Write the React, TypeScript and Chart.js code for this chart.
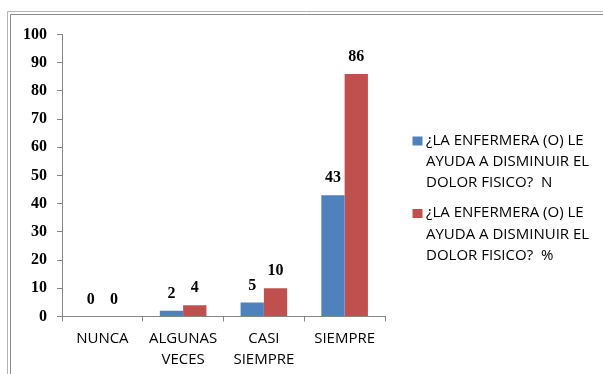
import { useEffect, useRef } from "react";
import { Chart, registerables } from "chart.js";

Chart.register(...registerables);

// Response categories on the x axis (multi-line where the label wraps)
const categories: (string | string[])[] = ["NUNCA", ["ALGUNAS", "VECES"], ["CASI", "SIEMPRE"], "SIEMPRE"];
// Counts (N) and percentages (%) per response
const valuesN = [0, 2, 5, 43];
const valuesPct = [0, 4, 10, 86];
// Legend text, wrapped as shown beside the plot
const legendLinesN = ["¿LA ENFERMERA (O) LE", "AYUDA A DISMINUIR EL", "DOLOR FISICO?  N"];
const legendLinesPct = ["¿LA ENFERMERA (O) LE", "AYUDA A DISMINUIR EL", "DOLOR FISICO?  %"];
// Value axis range
const yMin = 0;
const yMax = 100;
const yStep = 10;

const BLUE = "#4F81BD";
const RED = "#C0504D";
const AXIS = "#868686";
const SERIF_BOLD = 'bold 16px "Liberation Serif"';
const SANS = '15px "Open Sans"';

const framePlugin = {
  id: "frame",
  beforeDraw(chart: Chart) {
    const { ctx, width, height } = chart;
    ctx.save();
    ctx.fillStyle = "#ffffff";
    ctx.fillRect(0, 0, width, height);
    ctx.lineWidth = 1;
    ctx.strokeStyle = "#b4b4b4";
    ctx.beginPath();
    ctx.moveTo(7.5, height);
    ctx.lineTo(7.5, 11.5);
    ctx.lineTo(width, 11.5);
    ctx.stroke();
    ctx.strokeStyle = "#8a8a8a";
    ctx.beginPath();
    ctx.moveTo(10.5, height);
    ctx.lineTo(10.5, 14.5);
    ctx.lineTo(width, 14.5);
    ctx.stroke();
    ctx.restore();
  },
};

const valueLabelPlugin = {
  id: "valueLabels",
  afterDatasetsDraw(chart: Chart) {
    const { ctx } = chart;
    ctx.save();
    ctx.font = SERIF_BOLD;
    ctx.fillStyle = "#000000";
    ctx.textAlign = "center";
    ctx.textBaseline = "middle";
    chart.data.datasets.forEach((ds, di) => {
      const meta = chart.getDatasetMeta(di);
      meta.data.forEach((el: any, i) => {
        const v = ds.data[i] as number;
        ctx.fillText(String(v), el.x, el.y - 17);
      });
    });
    ctx.restore();
  },
};

const sideLegendPlugin = {
  id: "sideLegend",
  afterDraw(chart: Chart) {
    const { ctx } = chart;
    const entries = [
      { color: BLUE, lines: legendLinesN, top: 140.5 },
      { color: RED, lines: legendLinesPct, top: 213 },
    ];
    ctx.save();
    ctx.font = SANS;
    ctx.textAlign = "left";
    ctx.textBaseline = "middle";
    entries.forEach((e) => {
      ctx.fillStyle = e.color;
      ctx.fillRect(412.5, e.top - 4, 10, 9);
      ctx.fillStyle = "#000000";
      e.lines.forEach((line, li) => {
        ctx.fillText(line, 426, e.top + li * 21.3);
      });
    });
    ctx.restore();
  },
};

export default function App() {
  const canvasRef = useRef<HTMLCanvasElement | null>(null);

  useEffect(() => {
    if (!canvasRef.current) return;
    const chart = new Chart(canvasRef.current, {
      type: "bar",
      data: {
        labels: categories,
        datasets: [
          { label: legendLinesN.join(" "), data: valuesN, backgroundColor: BLUE },
          { label: legendLinesPct.join(" "), data: valuesPct, backgroundColor: RED },
        ],
      },
      options: {
        animation: false,
        responsive: false,
        devicePixelRatio: 1,
        layout: { padding: { left: 0, top: 34.5, right: 218, bottom: 0 } },
        datasets: { bar: { categoryPercentage: 0.577, barPercentage: 1 } },
        plugins: { legend: { display: false }, tooltip: { enabled: false } },
        scales: {
          x: {
            grid: { display: true, drawOnChartArea: false, drawTicks: true, tickLength: 5, color: AXIS, offset: true },
            border: { display: true, color: AXIS },
            ticks: { color: "#000000", font: { family: "Open Sans", size: 15, lineHeight: 1.4 }, padding: 7, maxRotation: 0, autoSkip: false },
            afterFit(scale: any) {
              scale.height = 57.5;
            },
          },
          y: {
            min: yMin,
            max: yMax,
            grid: { display: true, drawOnChartArea: false, drawTicks: true, tickLength: 5, color: AXIS },
            border: { display: true, color: AXIS },
            ticks: { stepSize: yStep, color: "#000000", font: { family: "Liberation Serif", size: 16, weight: "bold" }, padding: 10 },
            afterFit(scale: any) {
              scale.width = 62;
            },
          },
        },
      },
      plugins: [framePlugin, valueLabelPlugin, sideLegendPlugin],
    });
    return () => chart.destroy();
  }, []);

  return (
    <div style={{ position: "fixed", left: 0, top: 0, width: 603, height: 374, background: "#fff" }}>
      <canvas ref={canvasRef} width={603} height={374} style={{ display: "block" }} />
    </div>
  );
}
